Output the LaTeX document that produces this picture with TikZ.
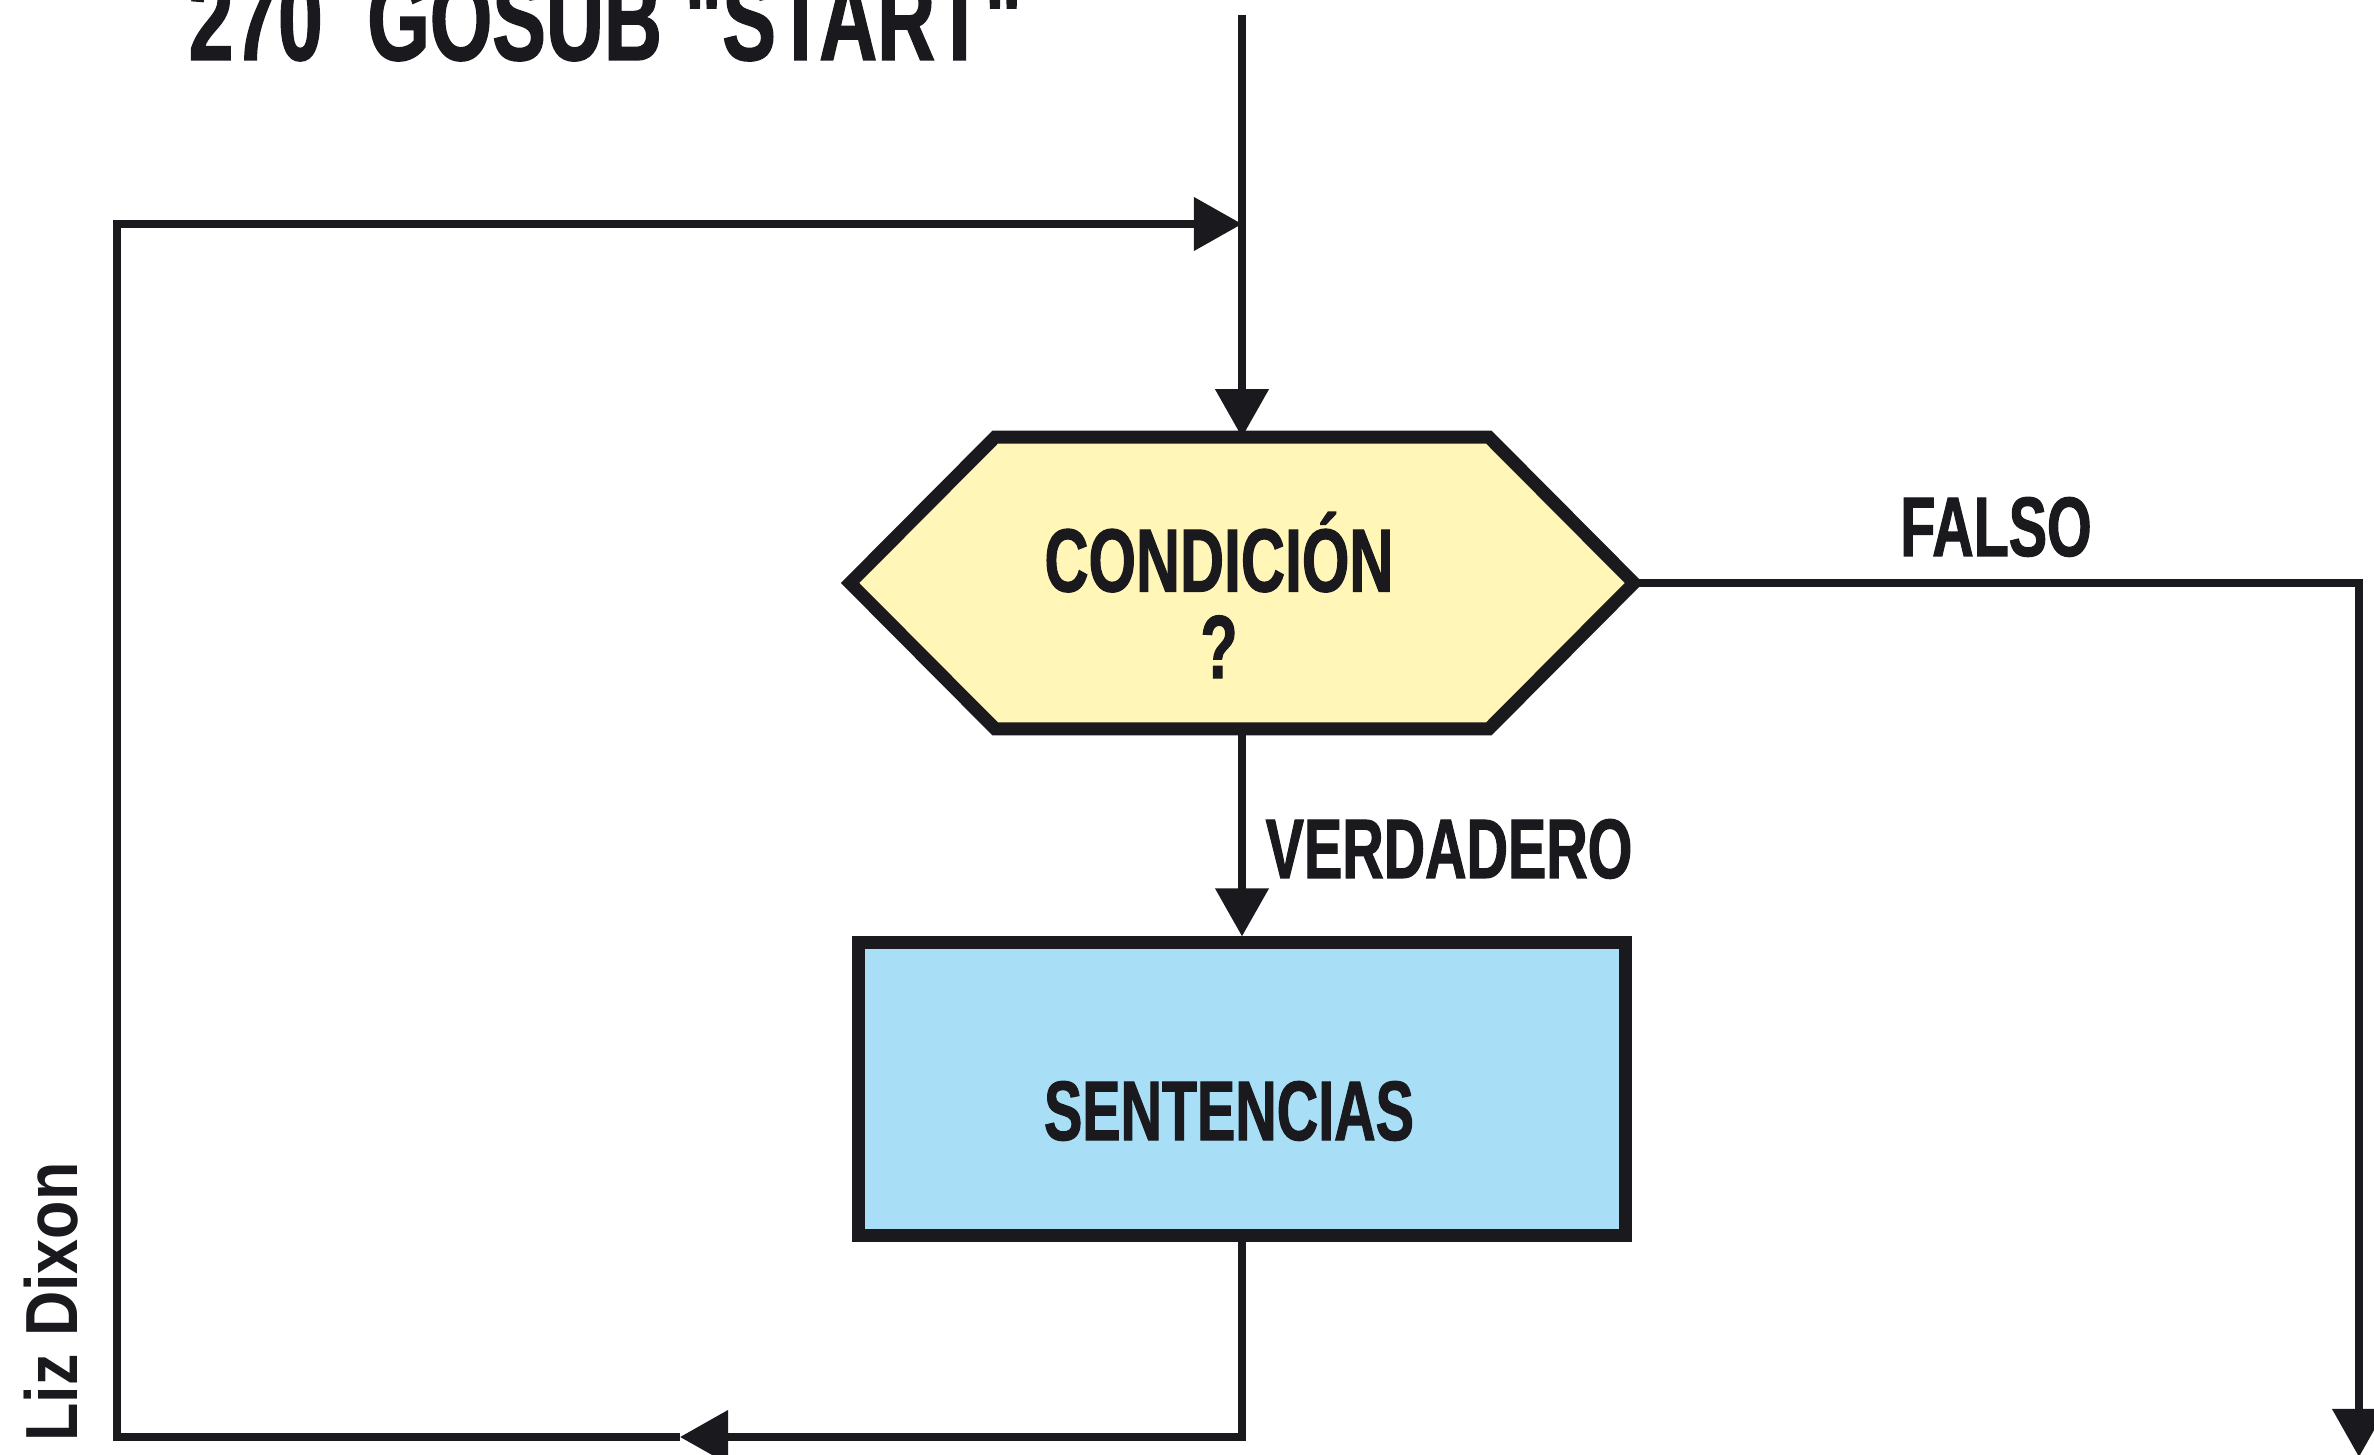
\documentclass[tikz,border=0pt]{standalone}
\usepackage{fontspec}
\newfontfamily\cf{Liberation Sans}[FakeStretch=0.68,FakeBold=1.2]
\newfontfamily\lizf{Liberation Sans}[FakeStretch=0.85]
\usetikzlibrary{arrows.meta,calc,backgrounds}
\definecolor{ink}{RGB}{25,25,30}
\definecolor{hexfill}{RGB}{255,246,184}
\definecolor{boxfill}{RGB}{168,222,246}
\begin{document}
\begin{tikzpicture}[x=0.01cm,y=-0.01cm,
  conn/.style={draw=ink,line width=2.1pt},
  tip/.style={-{Triangle[length=0.48cm,width=0.52cm]}},
  lbl/.style={font=\cf\bfseries\fontsize{24}{24}\selectfont, text=ink, inner sep=0pt},
  border/.style={draw=ink,line width=3.7pt,line join=miter},
]
\useasboundingbox (0,0) rectangle (2374,1455);

\node[lbl, font=\cf\bfseries\fontsize{33.6}{36}\selectfont, anchor=base west] (title) at (188,60) {270\ \ GOSUB "START"};

\coordinate (start) at (1242,15);
\node[lbl, font=\cf\bfseries\fontsize{25.5}{22.7}\selectfont, minimum width=7.82cm, minimum height=2.9cm] (cond) at (1242,583)
  {\hspace*{-0.46cm}\raisebox{0pt}[1.9cm][0pt]{\begin{tabular}[b]{@{}c@{}}CONDICIÓN\\?\end{tabular}}};

\begin{scope}[on background layer]
\fill[white] (0,0) rectangle (2374,1455);
\filldraw[border, fill=hexfill] (cond.west) -- ($(cond.north west)+(145,0)$) -- ($(cond.north east)+(-145,0)$)
  -- (cond.east) -- ($(cond.south east)+(-145,0)$) -- ($(cond.south west)+(145,0)$) -- cycle;
\end{scope}

\node[lbl, border, fill=boxfill, minimum width=7.66cm, minimum height=2.92cm] (sent) at (1242,1089)
  {\hspace*{-0.26cm}\raisebox{0pt}[1.02cm][0pt]{SENTENCIAS}};

\draw[conn, tip] (start) -- (cond.north);
\draw[conn, tip] (cond.south) -- (sent.north);
\node[lbl, anchor=base west] (verd) at (1265,878) {VERDADERO};

\coordinate (fend) at (2359,1457);
\draw[conn, tip] (cond.east) -| (fend);
\node[lbl, anchor=base] (falso) at (1996,556) {FALSO};

\coordinate (mid) at (680,1437);
\coordinate (bl) at (117,1437);
\coordinate (tl) at (117,224);
\coordinate (merge) at (1242,224);
\draw[conn, tip] (sent.south) |- (mid);
\draw[conn, tip] (mid) -- (bl) -- (tl) -- (merge);

\node[font=\lizf\bfseries\fontsize{21}{21}\selectfont, text=ink, rotate=90, inner sep=0pt] (liz) at (51,1302) {Liz Dixon};
\end{tikzpicture}
\end{document}
